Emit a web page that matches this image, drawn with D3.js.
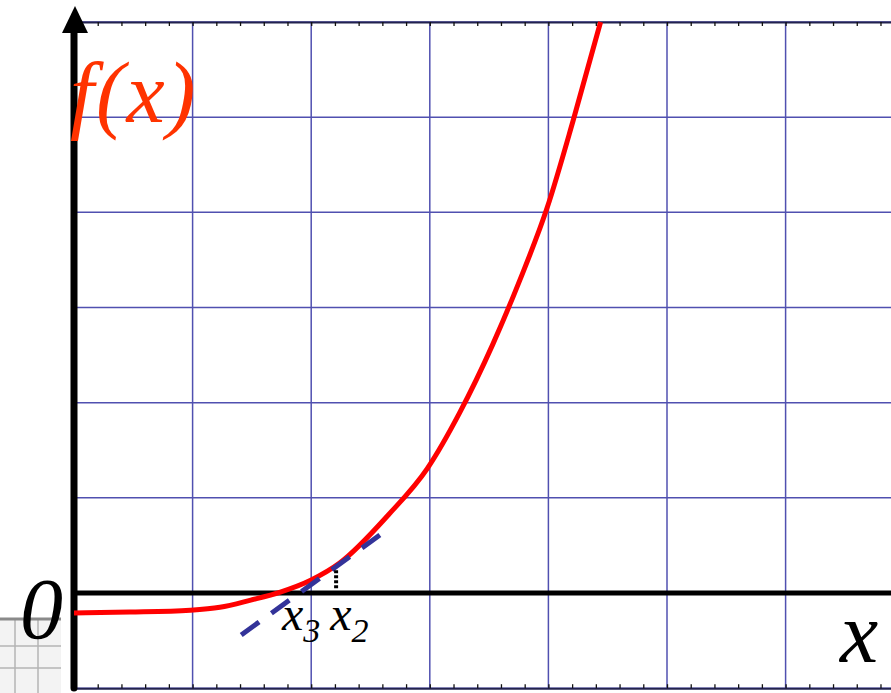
<!DOCTYPE html>
<html>
<head>
<meta charset="utf-8">
<script src="https://cdn.jsdelivr.net/npm/d3@7"></script>
<style>
  html, body { margin: 0; padding: 0; background: #ffffff; }
  svg { display: block; }
</style>
</head>
<body>
<svg id="chart" width="891" height="693"></svg>
<script>
// Sampled points of f(x) (grid units: one cell per unit)
const curveX = [0, 0.47, 0.98, 1.23, 1.49, 1.74, 2.0, 2.24, 2.65, 2.98, 3.25, 3.53, 3.76, 3.99, 4.21, 4.44];
const curveY = [-0.21, -0.20, -0.18, -0.15, -0.074, 0.01, 0.137, 0.315, 0.82, 1.31, 1.89, 2.61, 3.29, 4.05, 4.97, 6.0];

// Tangent line at x2 (Newton step to x3)
const tangentX = [1.41, 2.58];
const tangentY = [-0.44, 0.61];
const x2 = 2.21;
const x3 = 1.904;
const dropY = [0.05, 0.25];

// Grid
const gridX = [1, 2, 3, 4, 5, 6, 7];
const gridY = [-1, 1, 2, 3, 4, 5, 6];
const minorStep = 0.2;

const SERIF = "'Liberation Serif'";

const svg = d3.select("#chart");
const x = d3.scaleLinear().domain([0, 7]).range([74, 74 + 7 * 118.6]);
const y = d3.scaleLinear().domain([-1, 6]).range([688.2, 22]);
const W = 891;

// Scanned graph-paper fragment in the lower-left corner
const patch = svg.append("g");
patch.append("rect").attr("x", 0).attr("y", 618).attr("width", 61).attr("height", 80).attr("fill", "#f3f3f3");
[15, 38].forEach(v => patch.append("line").attr("x1", v).attr("x2", v).attr("y1", 619).attr("y2", 693)
  .attr("stroke", "#b4b4b4").attr("stroke-width", 1.5));
[646, 668].forEach(v => patch.append("line").attr("x1", 0).attr("x2", 61).attr("y1", v).attr("y2", v)
  .attr("stroke", "#b4b4b4").attr("stroke-width", 1.5));
patch.append("line").attr("x1", 0).attr("x2", 61).attr("y1", 619).attr("y2", 619)
  .attr("stroke", "#8a8a8a").attr("stroke-width", 3);

// Blue grid
const grid = svg.append("g").attr("stroke", "#5050b0").attr("stroke-width", 1.5);
grid.selectAll("line.v").data(gridX).join("line")
  .attr("x1", d => x(d)).attr("x2", d => x(d))
  .attr("y1", y(6)).attr("y2", y(-1));
grid.selectAll("line.h").data(gridY).join("line")
  .attr("x1", x(0)).attr("x2", W)
  .attr("y1", d => y(d)).attr("y2", d => y(d));

// Frame edges with minor ticks
const minor = d3.range(minorStep, 7.01, minorStep);
const topAxis = d3.axisBottom(x).tickValues(minor).tickSize(4).tickSizeOuter(0).tickFormat("");
const botAxis = d3.axisTop(x).tickValues(minor).tickSize(4).tickSizeOuter(0).tickFormat("");
[[topAxis, y(6)], [botAxis, y(-1)]].forEach(([ax, py]) => {
  const g = svg.append("g").attr("transform", `translate(0,${py})`).call(ax);
  g.select(".domain").attr("stroke", "#22224f").attr("stroke-width", 2);
  g.selectAll(".tick line").attr("stroke", "#111").attr("stroke-width", 1.3);
});

// Coordinate axes
svg.append("line").attr("x1", x(0)).attr("x2", W).attr("y1", y(0)).attr("y2", y(0))
  .attr("stroke", "#000").attr("stroke-width", 5);
svg.append("line").attr("x1", x(0)).attr("x2", x(0)).attr("y1", 30).attr("y2", 688)
  .attr("stroke", "#000").attr("stroke-width", 7).attr("stroke-linecap", "round");
svg.append("path")
  .attr("d", `M${x(0) + 1},6 L${x(0) + 14},33 L${x(0) - 12},33 Z`)
  .attr("fill", "#000");

// f(x)
const pts = curveX.map((v, i) => [v, curveY[i]]);
svg.append("path").datum(pts)
  .attr("d", d3.line().x(d => x(d[0])).y(d => y(d[1])).curve(d3.curveMonotoneX))
  .attr("fill", "none").attr("stroke", "#ff0000").attr("stroke-width", 5)
  .attr("stroke-linejoin", "round");

// Tangent
svg.append("line")
  .attr("x1", x(tangentX[0])).attr("y1", y(tangentY[0]))
  .attr("x2", x(tangentX[1])).attr("y2", y(tangentY[1]))
  .attr("stroke", "#333399").attr("stroke-width", 5).attr("stroke-dasharray", "22,15.2");

// Drop from the tangent point to the axis
svg.append("line")
  .attr("x1", x(x2)).attr("x2", x(x2)).attr("y1", y(dropY[0])).attr("y2", y(dropY[1]))
  .attr("stroke", "#000").attr("stroke-width", 4).attr("stroke-dasharray", "3,2");

// Labels
const label = (px, py, size, color) => svg.append("text")
  .attr("x", px).attr("y", py).attr("font-size", size).attr("fill", color)
  .attr("font-family", SERIF).attr("font-style", "italic");

const sub = (xv, name, s) => {
  const t = label(x(xv), 630, 48, "#000");
  t.append("tspan").text(name);
  t.append("tspan").attr("dy", 12).attr("font-size", 34).text(s);
};
sub(x3 - 0.15, "x", "3");
sub(x2 - 0.05, "x", "2");

label(840, 662, 86, "#000").text("x");
label(20, 638, 86, "#000").text("0");
label(70, 122, 86, "#ff3300").attr("letter-spacing", 2).text("f(x)");
</script>
</body>
</html>
